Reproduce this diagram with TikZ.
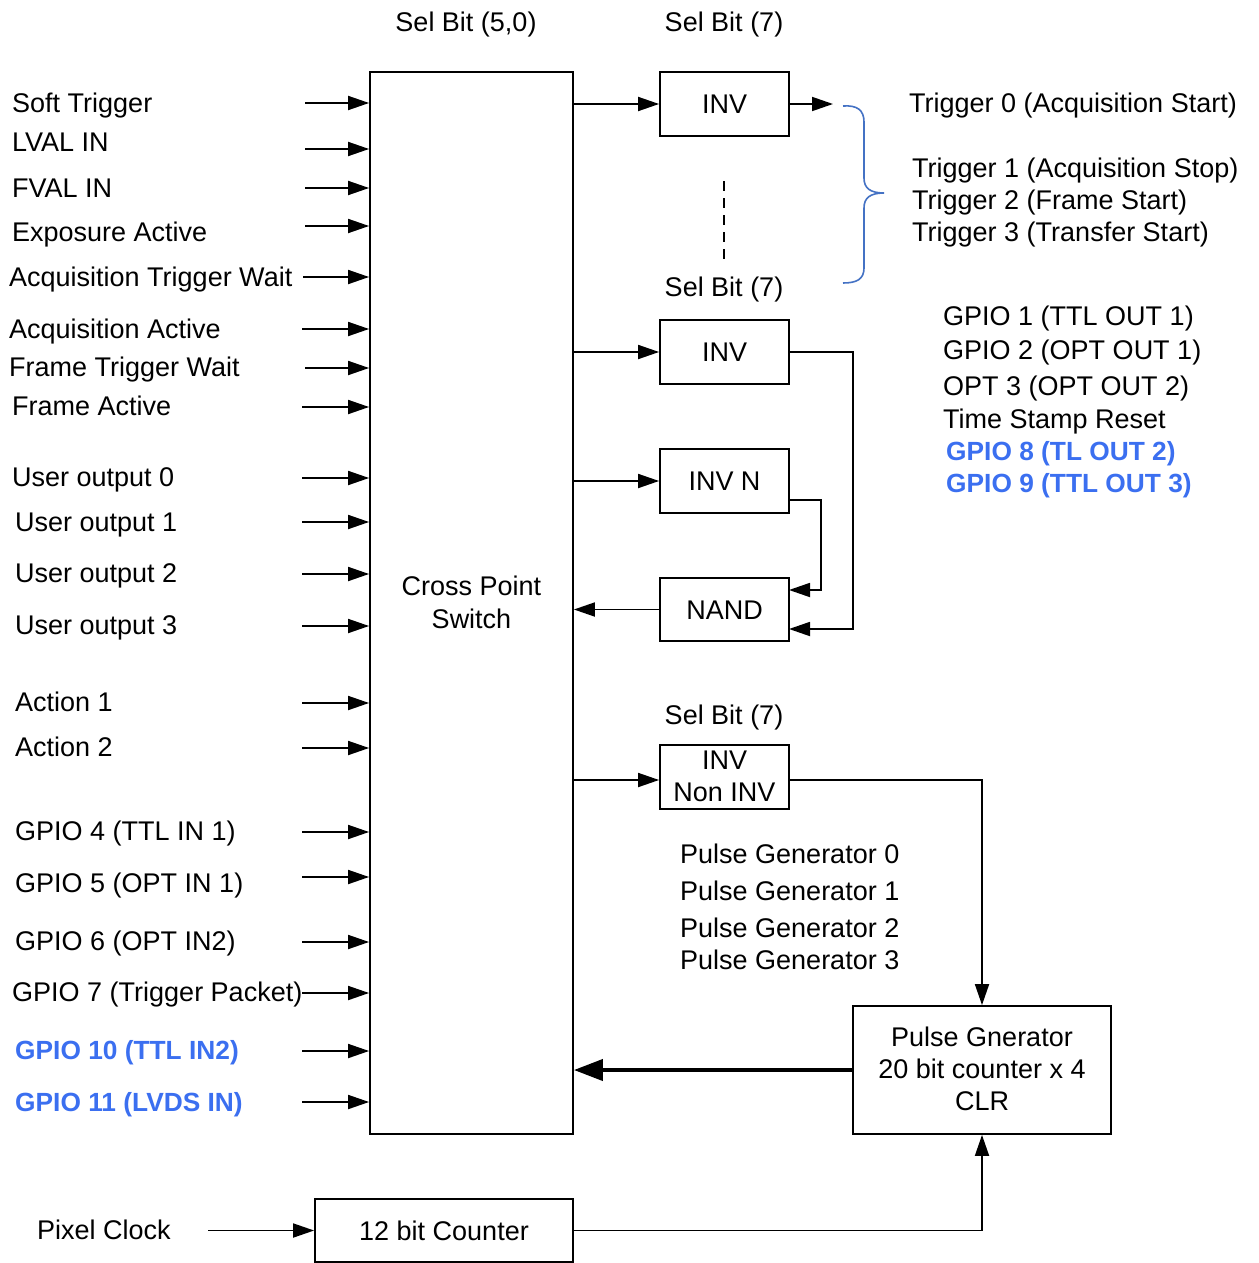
\documentclass[tikz,border=0pt]{standalone}
\usepackage{fontspec}
\setmainfont{Liberation Sans}
\usetikzlibrary{arrows.meta}
\definecolor{gpioblue}{RGB}{59,111,240}
\definecolor{bracecol}{RGB}{68,114,196}
\begin{document}
\begin{tikzpicture}[x=1pt,y=-1pt,
  every node/.style={font=\fontsize{27}{32}\selectfont},
  lbl/.style={inner sep=0pt, text height=19pt, text depth=0pt, anchor=west},
  ctr/.style={inner sep=0pt, text height=19pt, text depth=0pt},
  hot/.style={text=gpioblue, font=\fontsize{26.3}{32}\selectfont\bfseries},
  blk/.style={draw, line width=1.8pt, inner sep=0pt},
  arr/.style={line width=1.8pt, -{Triangle[length=21pt,width=14pt]}},
  bigarr/.style={line width=4pt, -{Triangle[length=29pt,width=21pt]}}]
\useasboundingbox (0,0) rectangle (1258,1263);

% blocks
\node[blk, minimum width=203pt, minimum height=1062pt] (sw) at (471.5,603) {};
\node[ctr] (swt1) at (471.5,586) {Cross Point};
\node[ctr] (swt2) at (471.5,619) {Switch};
\node[blk, ctr, draw, minimum width=129pt, minimum height=64pt] (inv1) at (724.5,104) {INV};
\node[blk, ctr, draw, minimum width=129pt, minimum height=64pt] (inv2) at (724.5,352) {INV};
\node[blk, ctr, draw, minimum width=129pt, minimum height=64pt] (invn) at (724.5,481) {INV N};
\node[blk, ctr, draw, minimum width=129pt, minimum height=63pt] (nand) at (724.5,609.5) {NAND};
\node[blk, minimum width=129pt, minimum height=64pt] (invni) at (724.5,777) {};
\node[ctr] (invnit1) at (724.5,760) {INV};
\node[ctr] (invnit2) at (724.5,792) {Non INV};
\node[blk, minimum width=258pt, minimum height=128pt] (pg) at (982,1070) {};
\node[ctr] (pgt1) at (982,1037) {Pulse Gnerator};
\node[ctr] (pgt2) at (982,1069) {20 bit counter x 4};
\node[ctr] (pgt3) at (982,1101) {CLR};
\node[blk, ctr, draw, minimum width=258pt, minimum height=63pt] (cnt) at (444,1230.5) {12 bit Counter};

% select-bit captions
\node[ctr] (sel50) at (466,22) {Sel Bit (5,0)};
\node[ctr] (sel7a) at (724,22) {Sel Bit (7)};
\node[ctr] (sel7b) at (724,287) {Sel Bit (7)};
\node[ctr] (sel7c) at (724,715) {Sel Bit (7)};

% inputs of the cross point switch
\foreach \n/\tx/\ty/\ax/\ay/\t in {
  soft/12/103/305/103/Soft Trigger,
  lval/12/142/305/149/LVAL IN,
  fval/12/188/305/188/FVAL IN,
  expo/12/232/305/226/Exposure Active,
  atw/9/277/303/277/Acquisition Trigger Wait,
  acqa/9/329/302/329/Acquisition Active,
  ftw/9/367/305/368/Frame Trigger Wait,
  fra/12/406/302/407/Frame Active,
  uo0/12/477/302/478/User output 0,
  uo1/15/522/302/522/User output 1,
  uo2/15/573/302/574/User output 2,
  uo3/15/625/302/626/User output 3,
  act1/15/702/302/703/Action 1,
  act2/15/747/302/748/Action 2,
  gp4/15/831/302/832/GPIO 4 (TTL IN 1),
  gp5/15/883/302/877/GPIO 5 (OPT IN 1),
  gp6/15/941/302/942/GPIO 6 (OPT IN2),
  gp7/12/992/302/993/GPIO 7 (Trigger Packet)}{
  \node[lbl] (l\n) at (\tx,\ty) {\t};
  \coordinate (a\n) at (\ax,\ay);
  \draw[arr] (a\n) -- (a\n -| sw.west);
}
\node[lbl, hot] (lgp10) at (15,1050) {GPIO 10 (TTL IN2)};
\coordinate (agp10) at (302,1051);
\draw[arr] (agp10) -- (agp10 -| sw.west);
\node[lbl, hot] (lgp11) at (15,1102) {GPIO 11 (LVDS IN)};
\coordinate (agp11) at (302,1102);
\draw[arr] (agp11) -- (agp11 -| sw.west);

% trigger outputs
\coordinate (t0tip) at (833,104);
\node[lbl] (trg0) at (909,103) {Trigger 0 (Acquisition Start)};
\node[lbl] (trg1) at (912,168) {Trigger 1 (Acquisition Stop)};
\node[lbl] (trg2) at (912,200) {Trigger 2 (Frame Start)};
\node[lbl] (trg3) at (912,232) {Trigger 3 (Transfer Start)};
\draw[bracecol, line width=1.6pt]
  (843,106) .. controls (857,105) and (864,110) .. (864,122)
  -- (864,178) .. controls (864,188) and (870,193) .. (884,193)
  .. controls (870,193) and (864,198) .. (864,208)
  -- (864,268) .. controls (864,279) and (857,283) .. (843,283);
\draw[line width=1.2pt, dash pattern=on 10pt off 7pt] (724,181) -- (724,265);

% GPIO outputs
\node[lbl] (go1) at (943,316) {GPIO 1 (TTL OUT 1)};
\node[lbl] (go2) at (943,350) {GPIO 2 (OPT OUT 1)};
\node[lbl] (go3) at (943,386) {OPT 3 (OPT OUT 2)};
\node[lbl] (tsr) at (943,419) {Time Stamp Reset};
\node[lbl, hot] (go8) at (946,451) {GPIO 8 (TL OUT 2)};
\node[lbl, hot] (go9) at (946,483) {GPIO 9 (TTL OUT 3)};

% pulse generator list
\node[lbl] (pg0) at (680,854) {Pulse Generator 0};
\node[lbl] (pg1) at (680,891) {Pulse Generator 1};
\node[lbl] (pg2) at (680,928) {Pulse Generator 2};
\node[lbl] (pg3) at (680,960) {Pulse Generator 3};

% connections
\draw[arr] (sw.east |- inv1.west) -- (inv1.west);
\draw[arr] (inv1.east) -- (t0tip);
\draw[arr] (sw.east |- inv2.west) -- (inv2.west);
\draw[arr] (sw.east |- invn.west) -- (invn.west);
\draw[arr] (nand.west) -- (nand.west -| sw.east);
\coordinate (nIn1) at (789,590);
\coordinate (nIn2) at (789,629);
\draw[arr] ([yshift=-19pt]invn.east) -| (821,590) -- (nIn1);
\draw[arr] (inv2.east) -| (853,629) -- (nIn2);
\draw[arr] (sw.east |- 0,780) -- (invni.west |- 0,780);
\draw[arr] (invni.east |- 0,780) -| (pg.north);
\draw[bigarr] (pg.west) -- (pg.west -| sw.east);
\coordinate (pclk) at (208,1230.5);
\node[ctr] (pclkt) at (104,1230) {Pixel Clock};
\draw[arr] (pclk) -- (cnt.west);
\draw[arr] (cnt.east) -| (pg.south);
\end{tikzpicture}
\end{document}
